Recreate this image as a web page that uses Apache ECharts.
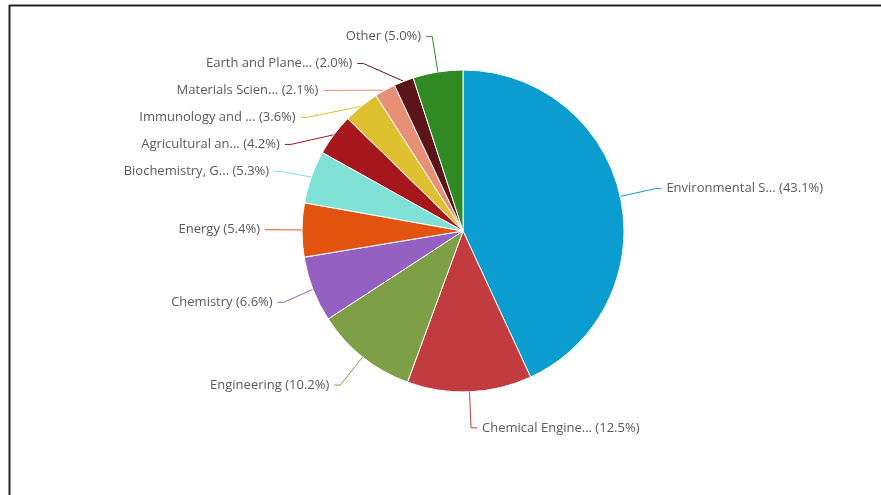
<!DOCTYPE html>
<html>
<head>
<meta charset="utf-8">
<script src="https://cdn.jsdelivr.net/npm/echarts@6/dist/echarts.min.js"></script>
<style>
  html, body { margin: 0; padding: 0; background: #fff; }
  #chart { width: 881px; height: 495px; }
</style>
</head>
<body>
<div id="chart"></div>
<script>
// subject areas, clockwise from 12 o'clock
var categories = ['Environmental S...', 'Chemical Engine...', 'Engineering', 'Chemistry', 'Energy',
  'Biochemistry, G...', 'Agricultural an...', 'Immunology and ...', 'Materials Scien...',
  'Earth and Plane...', 'Other'];
var shares = [43.1, 12.5, 10.2, 6.6, 5.4, 5.3, 4.2, 3.6, 2.1, 2.0, 5.0];
var colors = ['#0b9dd0', '#c23b3f', '#7e9f45', '#9460c2', '#e2530f', '#80e2d6',
  '#a5171d', '#dfc030', '#e88f78', '#5b1519', '#2f8a23'];

var data = categories.map(function (c, i) {
  return { name: c, value: shares[i], itemStyle: { color: colors[i] } };
});

var chart = echarts.init(document.getElementById('chart'));
chart.setOption({
  animation: false,
  graphic: [
    { type: 'line', shape: { x1: 9, y1: 5.5, x2: 881, y2: 5.5 }, style: { stroke: '#222', lineWidth: 2 } },
    { type: 'line', shape: { x1: 9.5, y1: 5, x2: 9.5, y2: 495 }, style: { stroke: '#222', lineWidth: 2 } }
  ],
  series: [{
    type: 'pie',
    center: [463, 231],
    radius: 161,
    startAngle: 90,
    clockwise: true,
    avoidLabelOverlap: true,
    itemStyle: { borderColor: '#fff', borderWidth: 1 },
    label: {
      color: '#5a5a5a',
      fontFamily: 'Open Sans',
      fontSize: 13,
      lineHeight: 25,
      formatter: function (p) { return p.name + ' (' + p.value.toFixed(1) + '%)'; }
    },
    labelLine: { length: 36, length2: 6, lineStyle: { width: 1 } },
    data: data
  }]
});
</script>
</body>
</html>
